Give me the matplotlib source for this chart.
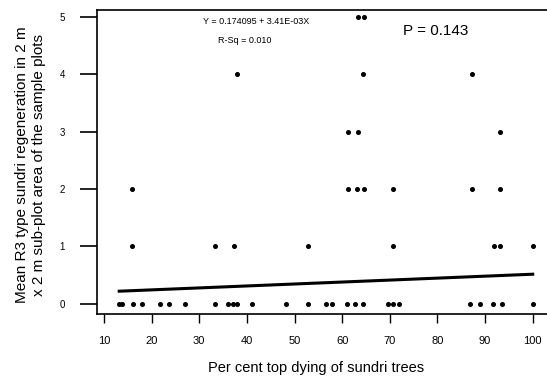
import matplotlib
matplotlib.use("Agg")
import matplotlib.pyplot as plt

plt.rcParams['font.family'] = ['Liberation Sans', 'DejaVu Sans']

# Per cent top dying (x) and mean R3 regeneration (y) for each sample plot
x_vals = [63.4, 64.6,
          37.9, 64.4, 87.3,
          61.3, 63.4, 93.2,
          15.9, 61.3, 63.2, 64.6, 70.7, 87.3, 93.2,
          15.9, 33.3, 37.3, 52.9, 70.7, 91.9, 93.2, 100.0,
          13.2, 13.8, 16.0, 17.9, 21.8, 23.7, 27.0, 33.3, 36.0, 37.0, 38.0,
          41.0, 48.2, 52.8, 56.6, 57.9, 61.0, 62.7, 64.4, 69.7, 70.7, 72.0,
          86.9, 89.0, 91.7, 93.6, 100.0]
y_vals = [5, 5,
          4, 4, 4,
          3, 3, 3,
          2, 2, 2, 2, 2, 2, 2,
          1, 1, 1, 1, 1, 1, 1, 1,
          0, 0, 0, 0, 0, 0, 0, 0, 0, 0, 0,
          0, 0, 0, 0, 0, 0, 0, 0, 0, 0, 0,
          0, 0, 0, 0, 0]

# Fitted regression
intercept = 0.174095
slope = 3.41e-03
fit_x = [13.2, 100.0]
fit_y = [intercept + slope * v for v in fit_x]

x_ticks = [10, 20, 30, 40, 50, 60, 70, 80, 90, 100]
y_ticks = [0, 1, 2, 3, 4, 5]

fig = plt.figure(figsize=(5.47, 3.78), dpi=100)
ax = fig.add_axes([0.177, 0.169, 0.823, 0.805])

ax.plot(x_vals, y_vals, linestyle='none', marker='o', markersize=2.6,
        color='black')
ax.plot(fit_x, fit_y, color='black', linewidth=2.2)

ax.set_xlim(8.5, 103)
ax.set_ylim(-0.18, 5.12)
ax.set_xticks(x_ticks)
ax.set_yticks(y_ticks)
ax.tick_params(axis='y', direction='out', length=12, width=1.2,
               labelsize=7, pad=11)
ax.tick_params(axis='x', direction='out', length=6.5, width=1.0,
               labelsize=8, pad=9)
ax.spines['right'].set_visible(False)
for s in ('left', 'bottom', 'top'):
    ax.spines[s].set_linewidth(1.2)

ax.set_xlabel('Per cent top dying of sundri trees', fontsize=10.5)
ax.xaxis.set_label_coords(0.487, -0.155)
ax.set_ylabel('Mean R3 type sundri regeneration in 2 m\n'
              'x 2 m sub-plot area of the sample plots', fontsize=11,
              linespacing=1.25)
ax.yaxis.set_label_coords(-0.113, 0.49)

ax.text(0.235, 0.962, 'Y = 0.174095 + 3.41E-03X', transform=ax.transAxes,
        fontsize=6.5, va='center', ha='left')
ax.text(0.27, 0.898, 'R-Sq = 0.010', transform=ax.transAxes,
        fontsize=6.5, va='center', ha='left')
ax.text(0.68, 0.93, 'P = 0.143', transform=ax.transAxes,
        fontsize=11, va='center', ha='left')

fig.savefig('out.png', dpi=100)
